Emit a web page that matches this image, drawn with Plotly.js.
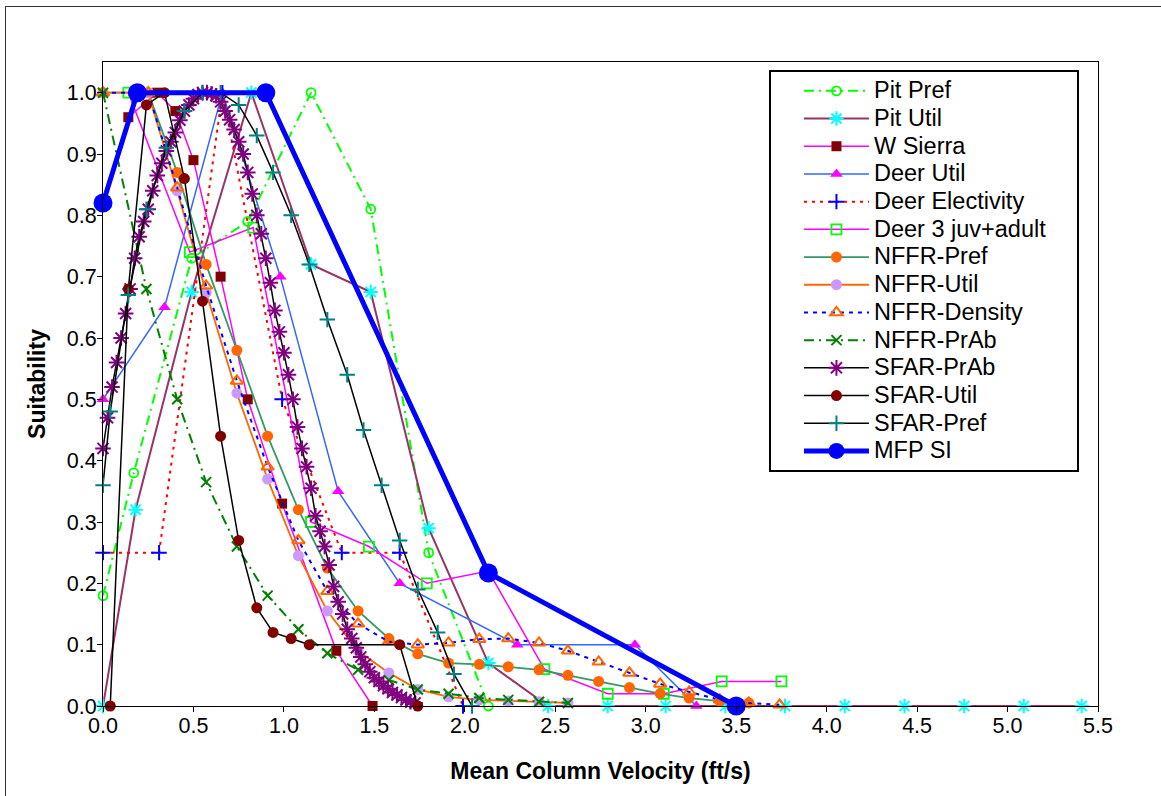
<!DOCTYPE html>
<html>
<head>
<meta charset="utf-8">
<script src="https://cdn.plot.ly/plotly-3.0.1.min.js"></script>
<style>
  html, body { margin: 0; padding: 0; background: #fff; }
  #frame { position: absolute; left: 5px; top: 6px; width: 1160px; height: 800px; border: 1px solid #333; box-sizing: border-box; pointer-events: none; }
  #chart { position: absolute; left: 0; top: 0; width: 1161px; height: 796px; }
</style>
</head>
<body>
<div id="chart"></div>
<div id="frame"></div>
<script>
// ---- data ----
const pitPrefX = [0, 0.17, 0.49, 0.80, 1.15, 1.48, 1.80, 2.13];
const pitPrefY = [0.18, 0.38, 0.73, 0.79, 1.0, 0.81, 0.25, 0.0];

const pitUtilX = [0, 0.18, 0.49, 0.82, 1.15, 1.48, 1.80, 2.13, 2.46, 2.79, 3.11, 3.44, 3.77, 4.10, 4.43, 4.76, 5.09, 5.41];
const pitUtilY = [0, 0.32, 0.675, 1.0, 0.72, 0.675, 0.29, 0.07, 0, 0, 0, 0, 0, 0, 0, 0, 0, 0];

const wSierraX = [0.14, 0.30, 0.40, 0.50, 0.65, 0.80, 0.99, 1.29, 1.49];
const wSierraY = [0.96, 1.0, 0.97, 0.89, 0.70, 0.50, 0.33, 0.09, 0.0];

const deerUtilX = [0, 0.34, 0.66, 0.98, 1.30, 1.64, 2.29, 2.94, 3.28];
const deerUtilY = [0.5, 0.65, 1.0, 0.70, 0.35, 0.20, 0.10, 0.10, 0.0];

const deerElecX = [0, 0.31, 0.66, 0.99, 1.32, 1.64, 1.99];
const deerElecY = [0.25, 0.25, 1.0, 0.50, 0.25, 0.25, 0.0];

const deer3X = [0.14, 0.48, 0.83, 1.15, 1.47, 1.79, 2.13, 2.44, 2.79, 3.10, 3.42, 3.75];
const deer3Y = [1.0, 0.74, 0.78, 0.30, 0.26, 0.20, 0.22, 0.06, 0.02, 0.02, 0.04, 0.04];

const nffrX = [0, 0.25, 0.41, 0.57, 0.74, 0.91, 1.08, 1.24, 1.41, 1.58, 1.74, 1.91, 2.08, 2.24, 2.41, 2.57, 2.74, 2.91, 3.08, 3.24, 3.41, 3.57, 3.74];
const nffrPrefY = [1.0, 1.0, 0.87, 0.72, 0.58, 0.44, 0.32, 0.225, 0.155, 0.11, 0.085, 0.07, 0.068, 0.064, 0.059, 0.05, 0.04, 0.03, 0.02, 0.013, 0.008, 0.005];
const nffrUtilY = [1.0, 1.0, 0.84, 0.674, 0.51, 0.37, 0.245, 0.155, 0.09, 0.054, 0.027, 0.015, 0.01, 0.008, 0.007, 0.005];
const nffrDensY = [1.0, 1.0, 0.845, 0.685, 0.53, 0.39, 0.27, 0.187, 0.134, 0.105, 0.10, 0.103, 0.109, 0.11, 0.103, 0.09, 0.072, 0.054, 0.036, 0.023, 0.01, 0.005, 0.002];
const nffrPrAbX = [0, 0.24, 0.41, 0.57, 0.74, 0.91, 1.08, 1.24, 1.41, 1.58, 1.74, 1.91, 2.08, 2.24, 2.41, 2.57];
const nffrPrAbY = [1.0, 0.68, 0.50, 0.365, 0.26, 0.18, 0.125, 0.086, 0.059, 0.042, 0.027, 0.02, 0.013, 0.01, 0.007, 0.005];

const sfarPrAbX = [0, 0.025, 0.05, 0.075, 0.1, 0.125, 0.15, 0.175, 0.2, 0.225, 0.25, 0.275, 0.3, 0.325, 0.35, 0.375, 0.4, 0.425, 0.45, 0.475, 0.5, 0.525, 0.55, 0.575, 0.6, 0.625, 0.65, 0.675, 0.7, 0.725, 0.75, 0.775, 0.8, 0.825, 0.85, 0.875, 0.9, 0.925, 0.95, 0.975, 1.0, 1.025, 1.05, 1.075, 1.1, 1.125, 1.15, 1.175, 1.2, 1.225, 1.25, 1.275, 1.3, 1.325, 1.35, 1.375, 1.4, 1.425, 1.45, 1.475, 1.5, 1.525, 1.55, 1.575, 1.6, 1.625, 1.65, 1.675, 1.7, 1.725];
const sfarPrAbY = [0.42, 0.47, 0.52, 0.56, 0.60, 0.64, 0.68, 0.73, 0.765, 0.79, 0.81, 0.84, 0.865, 0.885, 0.905, 0.92, 0.935, 0.955, 0.97, 0.98, 0.99, 0.997, 1.0, 1.0, 0.998, 0.995, 0.985, 0.97, 0.956, 0.94, 0.92, 0.90, 0.87, 0.835, 0.80, 0.77, 0.73, 0.69, 0.645, 0.61, 0.576, 0.54, 0.50, 0.455, 0.42, 0.39, 0.355, 0.31, 0.285, 0.26, 0.23, 0.195, 0.17, 0.15, 0.125, 0.11, 0.095, 0.08, 0.068, 0.056, 0.046, 0.04, 0.033, 0.028, 0.022, 0.018, 0.014, 0.01, 0.007, 0.005];

const sfarUtilX = [0.04, 0.14, 0.24, 0.34, 0.45, 0.55, 0.65, 0.75, 0.85, 0.94, 1.04, 1.14, 1.64, 1.74];
const sfarUtilY = [0, 0.68, 0.98, 1.0, 0.86, 0.66, 0.44, 0.27, 0.16, 0.12, 0.11, 0.10, 0.10, 0.0];

const sfarPrefX = [0, 0.04, 0.14, 0.24, 0.35, 0.45, 0.55, 0.65, 0.75, 0.85, 0.94, 1.04, 1.14, 1.24, 1.35, 1.44, 1.54, 1.64, 1.74, 1.85, 1.94, 2.04];
const sfarPrefY = [0.36, 0.48, 0.67, 0.81, 0.91, 0.97, 1.0, 1.0, 0.98, 0.93, 0.87, 0.80, 0.72, 0.63, 0.54, 0.45, 0.36, 0.27, 0.19, 0.12, 0.052, 0.0];

const mfpX = [0, 0.19, 0.90, 2.13, 3.50];
const mfpY = [0.82, 1.0, 1.0, 0.217, 0.0];

const seriesNames = ["Pit Pref", "Pit Util", "W Sierra", "Deer Util", "Deer Electivity", "Deer 3 juv+adult",
  "NFFR-Pref", "NFFR-Util", "NFFR-Density", "NFFR-PrAb", "SFAR-PrAb", "SFAR-Util", "SFAR-Pref", "MFP SI"];

const xTitle = "Mean Column Velocity (ft/s)";
const yTitle = "Suitability";

// ---- traces ----
function legendLabel(name, pad) {
  return '<span style="font-size:23.5px">' + name + (pad || '') + '</span>';
}
function tr(i, x, y, line, marker, pad) {
  return { type: 'scatter', mode: 'lines+markers', name: legendLabel(seriesNames[i], pad), x: x, y: y,
           line: line, marker: marker, cliponaxis: false };
}
const traces = [
  tr(0, pitPrefX, pitPrefY, {color: '#00FF00', width: 2, dash: '10px,5px,2px,5px'},
     {symbol: 'circle-open', size: 9, color: '#00FF00', line: {width: 1.8, color: '#00FF00'}}),
  tr(1, pitUtilX, pitUtilY, {color: '#993366', width: 2},
     {symbol: 'asterisk-open', size: 12, color: '#00FFFF', line: {width: 2, color: '#00FFFF'}}),
  tr(2, wSierraX, wSierraY, {color: '#FF00FF', width: 1.5},
     {symbol: 'square', size: 10, color: '#800000', line: {width: 0}}),
  tr(3, deerUtilX, deerUtilY, {color: '#3366FF', width: 1.5},
     {symbol: 'triangle-up', size: 11, color: '#FF00FF', line: {width: 0}}),
  tr(4, deerElecX, deerElecY, {color: '#FF0000', width: 2, dash: '3px,5px'},
     {symbol: 'cross-thin-open', size: 11, color: '#0000FF', line: {width: 2, color: '#0000FF'}}),
  tr(5, deer3X, deer3Y, {color: '#FF00FF', width: 1.5},
     {symbol: 'square-open', size: 10, color: '#00FF00', line: {width: 1.8, color: '#00FF00'}}, '\u00a0\u00a0\u00a0\u00a0'),
  tr(6, nffrX.slice(0, nffrPrefY.length), nffrPrefY, {color: '#339966', width: 1.8},
     {symbol: 'circle', size: 11, color: '#FF6600', line: {width: 0}}),
  tr(7, nffrX.slice(0, nffrUtilY.length), nffrUtilY, {color: '#FF6600', width: 1.8},
     {symbol: 'circle', size: 11, color: '#CC99FF', line: {width: 0}}),
  tr(8, nffrX.slice(0, nffrDensY.length), nffrDensY, {color: '#0000FF', width: 2, dash: '4px,5px'},
     {symbol: 'triangle-up-open', size: 11, color: '#FF6600', line: {width: 2, color: '#FF6600'}}),
  tr(9, nffrPrAbX, nffrPrAbY, {color: '#008000', width: 2, dash: '10px,5px,2px,5px'},
     {symbol: 'x-thin-open', size: 10, color: '#008000', line: {width: 2, color: '#008000'}}),
  tr(10, sfarPrAbX, sfarPrAbY, {color: '#000000', width: 1.5},
     {symbol: 'asterisk-open', size: 13, color: '#800080', line: {width: 2, color: '#800080'}}),
  tr(11, sfarUtilX, sfarUtilY, {color: '#000000', width: 1.5},
     {symbol: 'circle', size: 11, color: '#800000', line: {width: 0}}),
  tr(12, sfarPrefX, sfarPrefY, {color: '#000000', width: 1.5},
     {symbol: 'cross-thin-open', size: 11, color: '#008080', line: {width: 2, color: '#008080'}}),
  tr(13, mfpX, mfpY, {color: '#0000FF', width: 5},
     {symbol: 'circle', size: 19, color: '#0000FF', line: {width: 0}})
];

const FONT = 'Arial, "Liberation Sans", sans-serif';
const layout = {
  width: 1161, height: 796,
  margin: {l: 103, r: 63, t: 62, b: 90, pad: 0},
  paper_bgcolor: '#ffffff', plot_bgcolor: '#ffffff',
  font: {family: FONT, size: 20, color: '#000'},
  showlegend: true,
  legend: {
    x: 0.6693, y: 0.9876, xanchor: 'left', yanchor: 'top',
    bgcolor: '#ffffff', bordercolor: '#000000', borderwidth: 2,
    font: {family: FONT, size: 19, color: '#000'},
    itemwidth: 65, indentation: 28, tracegroupgap: 0, traceorder: 'normal'
  },
  xaxis: {
    range: [0, 5.5], dtick: 0.5, tick0: 0, tickformat: '.1f',
    showgrid: false, zeroline: false,
    showline: true, linecolor: '#000', linewidth: 1, mirror: true,
    ticks: 'outside', ticklen: 5, tickcolor: '#000', tickwidth: 1,
    ticklabelstandoff: -5,
    tickfont: {family: FONT, size: 21.5, color: '#000'},
    title: {text: '<b>' + xTitle + '</b>', font: {family: FONT, size: 23, color: '#000'}, standoff: 26}
  },
  yaxis: {
    range: [0, 1.05], dtick: 0.1, tick0: 0, tickformat: '.1f',
    showgrid: false, zeroline: false,
    showline: true, linecolor: '#000', linewidth: 1, mirror: true,
    ticks: 'outside', ticklen: 5, tickcolor: '#000', tickwidth: 1,
    ticklabelstandoff: -4,
    tickfont: {family: FONT, size: 21.5, color: '#000'},
    title: {text: '<b>' + yTitle + '</b>', font: {family: FONT, size: 23, color: '#000'}, standoff: 14}
  }
};

Plotly.newPlot('chart', traces, layout, {displayModeBar: false, staticPlot: true});
</script>
</body>
</html>
